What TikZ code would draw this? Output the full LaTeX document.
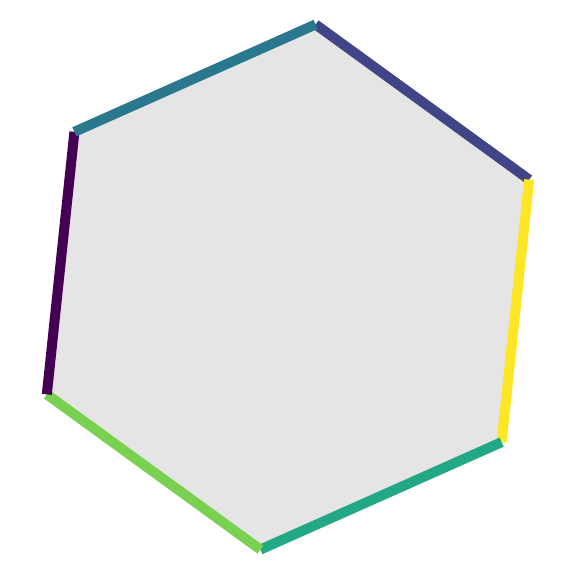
\documentclass[tikz,border=0pt]{standalone}
\usepackage{tikz}

\definecolor{vira}{HTML}{440154}
\definecolor{virb}{HTML}{414487}
\definecolor{virc}{HTML}{2A788E}
\definecolor{vird}{HTML}{22A884}
\definecolor{vire}{HTML}{7AD151}
\definecolor{virf}{HTML}{FDE725}
\definecolor{hexfill}{HTML}{E5E5E5}

\tikzset{hexedge/.style={line width=10pt,line cap=butt}}

\begin{document}
\begin{tikzpicture}[x=1pt,y=1pt]
\useasboundingbox (0,0) rectangle (576,576);
\begin{scope}[shift={(288,289)}]
\coordinate (p1) at (24:264);
\coordinate (p2) at (84:264);
\coordinate (p3) at (144:264);
\coordinate (p4) at (204:264);
\coordinate (p5) at (264:264);
\coordinate (p6) at (324:264);
\end{scope}
\fill[hexfill] (p1) -- (p2) -- (p3) -- (p4) -- (p5) -- (p6) -- cycle;
\draw[hexedge,virb] (p2) -- (p1);
\draw[hexedge,virf] (p1) -- (p6);
\draw[hexedge,vird] (p6) -- (p5);
\draw[hexedge,vire] (p5) -- (p4);
\draw[hexedge,vira] (p4) -- (p3);
\draw[hexedge,virc] (p3) -- (p2);
\end{tikzpicture}
\end{document}
